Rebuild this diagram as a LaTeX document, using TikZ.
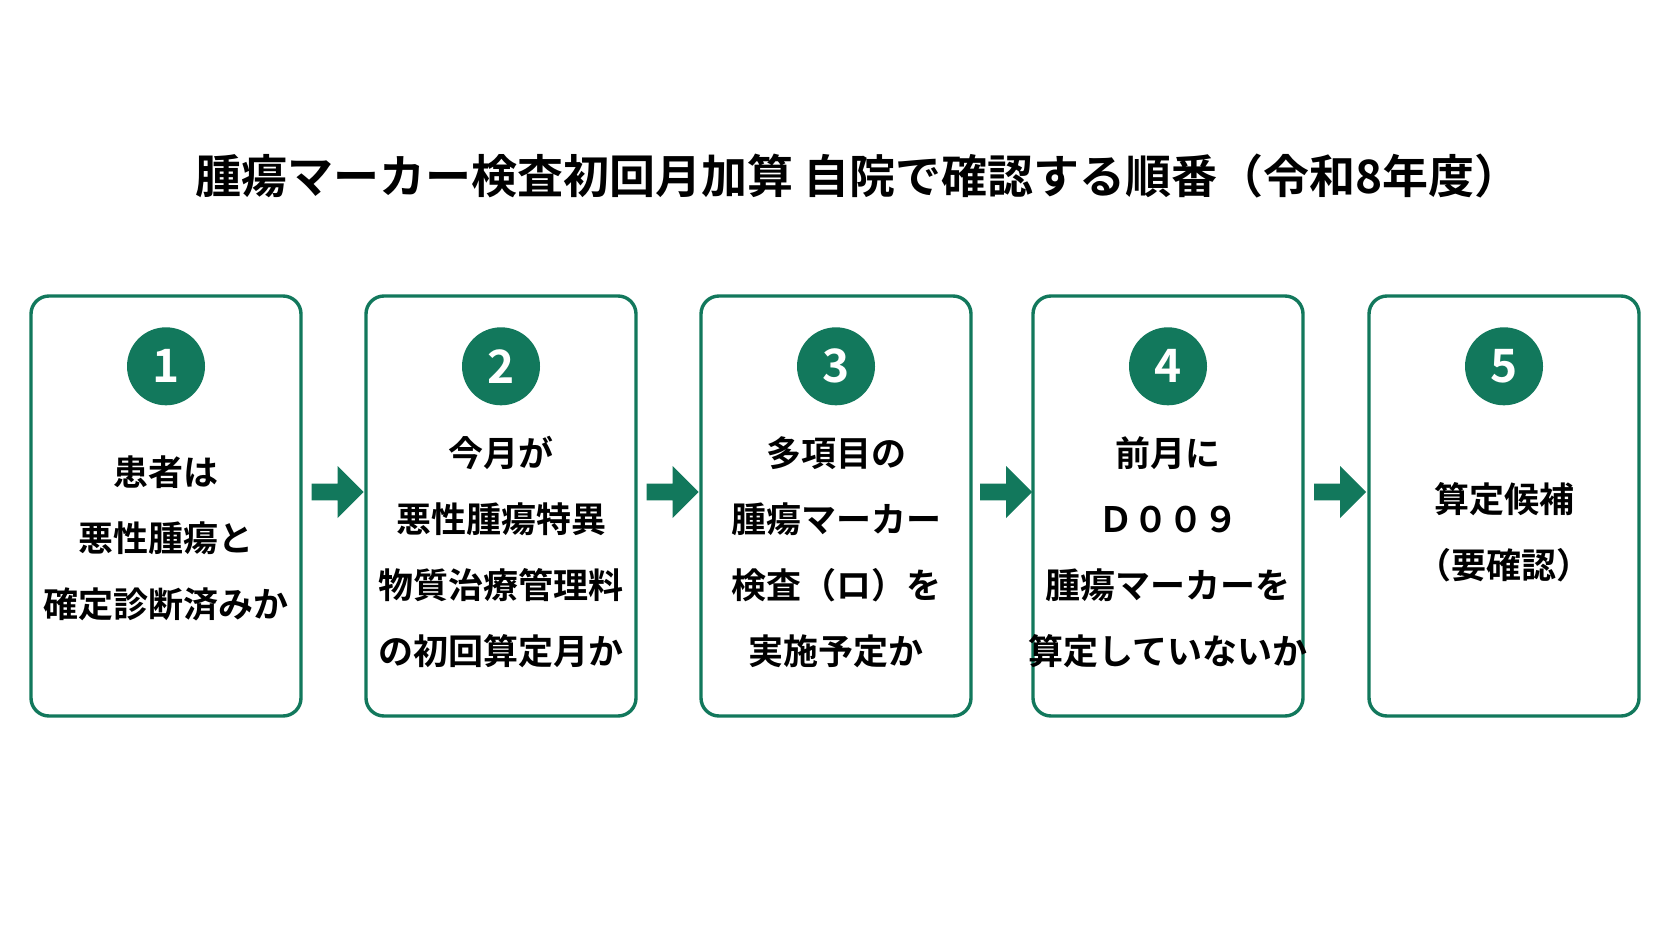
\documentclass[tikz,border=0pt]{standalone}
\usepackage{fontspec}
\setmainfont{Noto Sans CJK JP}[BoldFont={* Bold}]
\usetikzlibrary{positioning,shapes.arrows,calc}
\definecolor{mkgreen}{HTML}{12785C}
\begin{document}
\begin{tikzpicture}[x=1pt,y=-1pt,
  stepbox/.style={draw=mkgreen,line width=3.4pt,rounded corners=18pt,minimum width=270pt,minimum height=420pt,fill=white},
  num/.style={circle,fill=mkgreen,text=white,minimum size=78pt,inner sep=0pt,font=\fontsize{46}{46}\selectfont\bfseries},
  txt/.style={align=center,font=\fontsize{35}{66}\selectfont\bfseries},
  nxt/.style={single arrow,fill=mkgreen,minimum height=52pt,minimum width=52pt,single arrow head extend=9pt,inner sep=4pt,shape border uses incircle=false}]

\useasboundingbox[fill=white] (0,0) rectangle (1672,941);

\node[font=\fontsize{46}{46}\selectfont\bfseries] (title) at (858,176) {腫瘍マーカー検査初回月加算 自院で確認する順番（令和8年度）};

\node[stepbox] (s1) at (166,506) {};
\node[stepbox] (s2) at (501,506) {};
\node[stepbox] (s3) at (836,506) {};
\node[stepbox] (s4) at (1168,506) {};
\node[stepbox] (s5) at (1504,506) {};

\foreach \i in {1,...,5}
  \node[num] (n\i) at ([yshift=-72pt]s\i.north) {\i};

\node[txt] (t1) at (166,538) {患者は\\悪性腫瘍と\\確定診断済みか};
\node[txt] (t2) at (501,552) {今月が\\悪性腫瘍特異\\物質治療管理料\\の初回算定月か};
\node[txt] (t3) at (836,552) {多項目の\\腫瘍マーカー\\検査（ロ）を\\実施予定か};
\node[txt] (t4) at (1168,552) {前月に\\Ｄ００９\\腫瘍マーカーを\\算定していないか};
\node[txt] (t5) at (1504,532) {算定候補\\（要確認）};

\foreach \a/\b in {1/2,2/3,3/4,4/5}
  \node[nxt] (a\a) at ($(s\a.east)!0.5!(s\b.west)+(0,-14)$) {};

\end{tikzpicture}
\end{document}
